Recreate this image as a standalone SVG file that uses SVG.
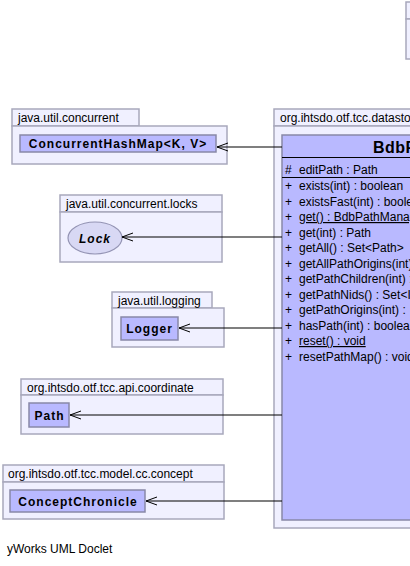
<svg xmlns="http://www.w3.org/2000/svg" width="410" height="566" viewBox="0 0 410 566">
<style>
.pkg{fill:#F0F0FF;stroke:#A8A8BC;stroke-width:1.5}
.cls{fill:#B9B9FF;stroke:#8888A8;stroke-width:1.5}
.ifc{fill:#D8D8F4;stroke:#9494B4;stroke-width:1.2}
.pl{font-family:"Liberation Sans",Arial,sans-serif;font-size:12px;fill:#000}
.cn{font-family:"Liberation Sans",Arial,sans-serif;font-size:12px;font-weight:bold;letter-spacing:1px;fill:#000}
.ti{font-family:"Liberation Sans",Arial,sans-serif;font-size:16px;font-weight:bold;letter-spacing:0.5px;fill:#000}
.mb{font-family:"Liberation Sans",Arial,sans-serif;font-size:12px;fill:#000}
.ln{stroke:#000;stroke-width:1.2;fill:none}
.sep{stroke:#000;stroke-width:1}
</style>
<defs>
<marker id="open" viewBox="0 0 12 10" refX="11" refY="5" markerWidth="12" markerHeight="10" markerUnits="userSpaceOnUse" orient="auto">
<path d="M0,1 L11,5 L0,9" fill="none" stroke="#000" stroke-width="1"/>
</marker>
</defs>

<g id="pkg-topright">
<rect class="pkg" x="406" y="2" width="30" height="17"/>
<rect class="pkg" x="406" y="19" width="30" height="40"/>
</g>

<g id="pkg-concurrent">
<rect class="pkg" x="12" y="109" width="127" height="17"/>
<rect class="pkg" x="12" y="126" width="215" height="38"/>
<text class="pl" x="18" y="122">java.util.concurrent</text>
</g>
<g id="ConcurrentHashMap">
<rect class="cls" x="20" y="135" width="196" height="17"/>
<text class="cn" x="118" y="148" text-anchor="middle">ConcurrentHashMap&lt;K, V&gt;</text>
</g>

<g id="pkg-locks">
<rect class="pkg" x="60" y="195" width="162" height="17"/>
<rect class="pkg" x="60" y="212" width="162" height="50"/>
<text class="pl" x="66" y="208">java.util.concurrent.locks</text>
</g>
<g id="Lock">
<ellipse class="ifc" cx="95" cy="238" rx="27" ry="16"/>
<text class="cn" x="95" y="242.5" text-anchor="middle" font-style="italic">Lock</text>
</g>

<g id="pkg-logging">
<rect class="pkg" x="112" y="292" width="100" height="16"/>
<rect class="pkg" x="112" y="308" width="112" height="39"/>
<text class="pl" x="118" y="304.5">java.util.logging</text>
</g>
<g id="Logger">
<rect class="cls" x="121" y="317" width="57" height="23"/>
<text class="cn" x="149.5" y="332.5" text-anchor="middle">Logger</text>
</g>

<g id="pkg-coordinate">
<rect class="pkg" x="21" y="379" width="202" height="16"/>
<rect class="pkg" x="21" y="395" width="202" height="39"/>
<text class="pl" x="27" y="391.5">org.ihtsdo.otf.tcc.api.coordinate</text>
</g>
<g id="Path">
<rect class="cls" x="29" y="403" width="40" height="24"/>
<text class="cn" x="49.5" y="419.5" text-anchor="middle">Path</text>
</g>

<g id="pkg-concept">
<rect class="pkg" x="3" y="465" width="221" height="17"/>
<rect class="pkg" x="3" y="482" width="221" height="37"/>
<text class="pl" x="8" y="478">org.ihtsdo.otf.tcc.model.cc.concept</text>
</g>
<g id="ConceptChronicle">
<rect class="cls" x="10" y="490" width="135" height="22"/>
<text class="cn" x="78" y="505.5" text-anchor="middle">ConceptChronicle</text>
</g>

<g id="pkg-datastore">
<rect class="pkg" x="274" y="109" width="160" height="17"/>
<rect class="pkg" x="274" y="126" width="160" height="402"/>
<text class="pl" x="280" y="122">org.ihtsdo.otf.tcc.datastore</text>
</g>
<g id="BdbPathManager">
<rect class="cls" x="282" y="135" width="150" height="385"/>
<text class="ti" x="373" y="153">BdbPathManager</text>
<line class="sep" x1="282" y1="157.5" x2="410" y2="157.5"/>
<text class="mb" x="285" y="174">#</text><text class="mb" x="299" y="174">editPath : Path</text>
<line class="sep" x1="282" y1="177.5" x2="410" y2="177.5"/>
<text class="mb" x="285" y="190">+</text><text class="mb" x="299" y="190">exists(int) : boolean</text>
<text class="mb" x="285" y="205.5">+</text><text class="mb" x="299" y="205.5">existsFast(int) : boolean</text>
<text class="mb" x="285" y="221">+</text><text class="mb" x="299" y="221" text-decoration="underline">get() : BdbPathManager</text>
<text class="mb" x="285" y="236.5">+</text><text class="mb" x="299" y="236.5">get(int) : Path</text>
<text class="mb" x="285" y="252">+</text><text class="mb" x="299" y="252">getAll() : Set&lt;Path&gt;</text>
<text class="mb" x="285" y="267.5">+</text><text class="mb" x="299" y="267.5">getAllPathOrigins(int)</text>
<text class="mb" x="285" y="283">+</text><text class="mb" x="299" y="283">getPathChildren(int) :</text>
<text class="mb" x="285" y="298.5">+</text><text class="mb" x="299" y="298.5">getPathNids() : Set&lt;Integer&gt;</text>
<text class="mb" x="285" y="314">+</text><text class="mb" x="299" y="314">getPathOrigins(int) :</text>
<text class="mb" x="285" y="329.5">+</text><text class="mb" x="299" y="329.5">hasPath(int) : boolean</text>
<text class="mb" x="285" y="345">+</text><text class="mb" x="299" y="345" text-decoration="underline">reset() : void</text>
<text class="mb" x="285" y="360.5">+</text><text class="mb" x="299" y="360.5">resetPathMap() : void</text>
</g>

<g id="connectors">
<line class="ln" x1="282" y1="147" x2="217" y2="147" marker-end="url(#open)"/>
<line class="ln" x1="282" y1="237" x2="122" y2="237" marker-end="url(#open)"/>
<line class="ln" x1="282" y1="328" x2="179" y2="328" marker-end="url(#open)"/>
<line class="ln" x1="282" y1="415" x2="70" y2="415" marker-end="url(#open)"/>
<line class="ln" x1="282" y1="501" x2="146" y2="501" marker-end="url(#open)"/>
</g>

<text class="pl" x="7" y="553">yWorks UML Doclet</text>
</svg>
